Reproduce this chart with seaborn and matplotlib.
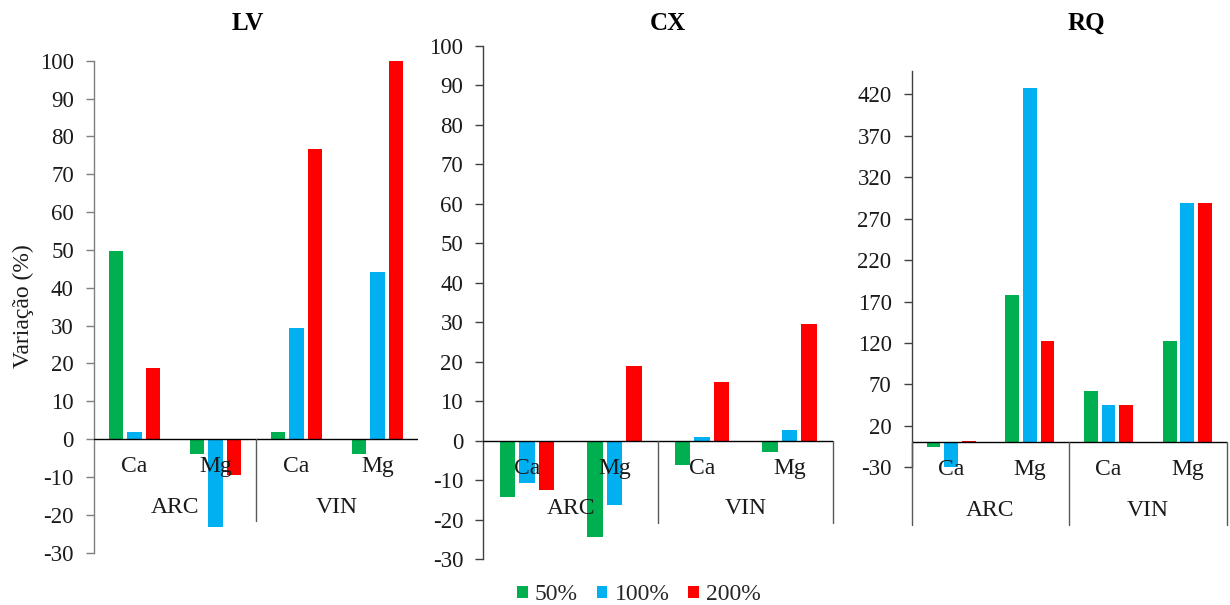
import matplotlib
matplotlib.use("Agg")
import matplotlib.pyplot as plt
import pandas as pd
import seaborn as sns

# ---------------- data ----------------
PANELS = ["LV", "CX", "RQ"]
GROUPS = ["ARC", "ARC", "VIN", "VIN"]
ELEMENTS = ["Ca", "Mg", "Ca", "Mg"]
DOSES = ["50%", "100%", "200%"]

LV_50 = [49.7, -4.0, 1.9, -4.0]
LV_100 = [1.9, -23.1, 29.3, 44.3]
LV_200 = [18.9, -9.6, 76.7, 100.0]

CX_50 = [-14.2, -24.4, -6.2, -2.8]
CX_100 = [-10.7, -16.3, 0.9, 2.7]
CX_200 = [-12.4, 18.9, 14.8, 29.5]

RQ_50 = [-5.3, 177.5, 61.9, 121.9]
RQ_100 = [-30.0, 427.5, 45.0, 288.5]
RQ_200 = [1.6, 121.9, 45.0, 288.5]

LV_TICKS = [-30, -20, -10, 0, 10, 20, 30, 40, 50, 60, 70, 80, 90, 100]
CX_TICKS = [-30, -20, -10, 0, 10, 20, 30, 40, 50, 60, 70, 80, 90, 100]
RQ_TICKS = [-30, 20, 70, 120, 170, 220, 270, 320, 370, 420]

COLORS = ["#00B050", "#00B0F0", "#FF0000"]
Y_LABEL = "Variação (%)"

SERIES = {
    "LV": [LV_50, LV_100, LV_200],
    "CX": [CX_50, CX_100, CX_200],
    "RQ": [RQ_50, RQ_100, RQ_200],
}

rows = []
for p in PANELS:
    for dose, vals in zip(DOSES, SERIES[p]):
        for g, e, v in zip(GROUPS, ELEMENTS, vals):
            rows.append({"panel": p, "cat": f"{g}-{e}", "dose": dose, "value": v})
df = pd.DataFrame(rows)
CATS = [f"{g}-{e}" for g, e in zip(GROUPS, ELEMENTS)]

# ---------------- style ----------------
sns.set_style("white")
plt.rcParams["font.family"] = ["Liberation Serif", "DejaVu Serif"]
plt.rcParams["axes.unicode_minus"] = False

W, H = 1230, 605
fig = plt.figure(figsize=(W / 100, H / 100), dpi=100)
TXT = "#1a1a1a"


def px_rect(left, right, top, bottom):
    return [left / W, 1 - bottom / H, (right - left) / W, (bottom - top) / H]


layout = {
    "LV": dict(rect=px_rect(94, 418, 60.7, 552.7), ylim=(-30, 100), ticks=LV_TICKS,
               title=(248, 23), spine="#7f7f7f", sep=[1.5], sep_px=82),
    "CX": dict(rect=px_rect(483.3, 833.3, 46, 559), ylim=(-30, 100), ticks=CX_TICKS,
               title=(668, 23), spine="#404040", sep=[1.5, 3.5], sep_px=82),
    "RQ": dict(rect=px_rect(911.7, 1226.7, 70.7, 467.3), ylim=(-30, 448.6), ticks=RQ_TICKS,
               title=(1086, 23), spine="#404040", sep=[-0.5, 1.5, 3.5], sep_px=83),
}

handles, labels = None, None
for p in PANELS:
    L = layout[p]
    ax = fig.add_axes(L["rect"])
    sub = df[df["panel"] == p]
    sns.barplot(data=sub, x="cat", y="value", hue="dose", order=CATS, hue_order=DOSES,
                palette=COLORS, width=0.67, gap=0.22, linewidth=0, saturation=1,
                errorbar=None, ax=ax, legend=True)
    if handles is None:
        handles, labels = ax.get_legend_handles_labels()
    if ax.get_legend() is not None:
        ax.get_legend().remove()

    ax.set_xlim(-0.5, 3.5)
    ax.set_ylim(*L["ylim"])
    ax.set_yticks(L["ticks"])
    ax.set_yticklabels([str(t) for t in L["ticks"]])
    ax.set_xticks([])
    ax.set_xlabel("")
    ax.set_ylabel("")
    for s in ["top", "right", "bottom"]:
        ax.spines[s].set_visible(False)
    ax.spines["left"].set_color(L["spine"])
    ax.spines["left"].set_linewidth(1.0)
    ax.tick_params(axis="y", direction="out", length=5.5, width=1.0, color=L["spine"],
                   pad=9.0, labelsize=16.5, labelcolor=TXT, left=True)
    ax.axhline(0, color="black", lw=1.0, zorder=5)

    # pixel -> data scale
    h_px = L["rect"][3] * H
    dy = (L["ylim"][1] - L["ylim"][0]) / h_px

    # separators of the multi-level category axis
    for xs in L["sep"]:
        ax.plot([xs, xs], [0, -L["sep_px"] * dy], color="#595959", lw=1.0,
                clip_on=False, zorder=5)

    # category labels
    for i, (g, e) in enumerate(zip(GROUPS, ELEMENTS)):
        ax.text(i, -27.5 * dy, e, ha="center", va="center", fontsize=17,
                color=TXT, clip_on=False, zorder=6)
    for gi, g in enumerate(["ARC", "VIN"]):
        ax.text(0.5 + 2 * gi, -68 * dy, g, ha="center", va="center", fontsize=17,
                color=TXT, clip_on=False, zorder=6)

    fig.text(L["title"][0] / W, 1 - L["title"][1] / H, p, ha="center", va="center",
             fontsize=18, fontweight="bold", color="black")

fig.text(23 / W, 1 - 306 / H, Y_LABEL, rotation=90, ha="center", va="center",
         fontsize=17, color=TXT)

fig.legend(handles, labels, loc="center", bbox_to_anchor=(639 / W, 1 - 595 / H),
           ncol=3, frameon=False, fontsize=17, handlelength=0.45, handleheight=0.45,
           handletextpad=0.3, columnspacing=0.8, borderaxespad=0, borderpad=0)

fig.savefig("out.png", dpi=100)
